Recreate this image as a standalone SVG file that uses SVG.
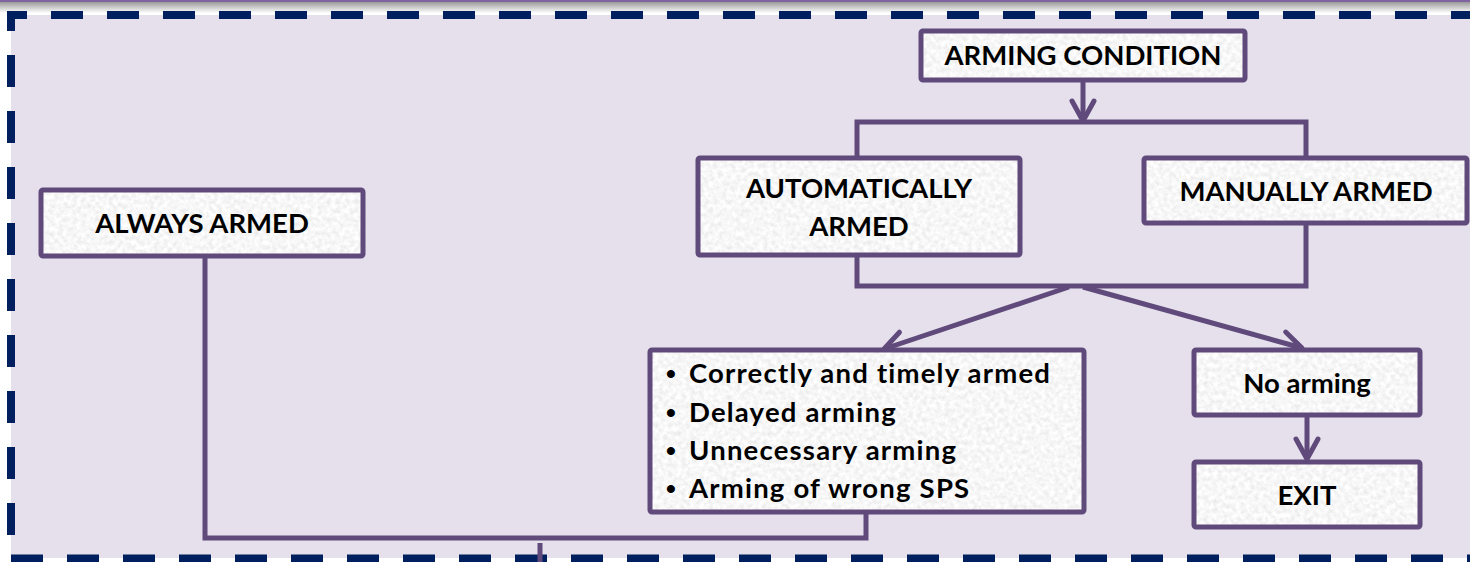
<svg xmlns="http://www.w3.org/2000/svg" width="1470" height="562" viewBox="0 0 1470 562">
  <defs>
    <style>
      .box { stroke: #604A7B; stroke-width: 5; fill: none; }
      .face { fill: #EDEDED; filter: url(#grain); }
      .wire { stroke: #604A7B; stroke-width: 5; fill: none; stroke-linejoin: miter; }
      .dash { stroke: #001F5F; stroke-width: 8; stroke-dasharray: 32 24; fill: none; }
      .lbl { font-family: Lato, "Liberation Sans", sans-serif; font-weight: 700; font-size: 27.5px; fill: #000; text-anchor: middle; }
      .item { font-family: Lato, "Liberation Sans", sans-serif; font-weight: 700; font-size: 27.5px; letter-spacing: 1.2px; fill: #000; }
      .dot { font-family: "Liberation Sans", sans-serif; font-weight: 700; font-size: 28px; fill: #000; }
    </style>
    <linearGradient id="topband" x1="0" y1="0" x2="0" y2="1">
      <stop offset="0" stop-color="#9A9A9A"/>
      <stop offset="1" stop-color="#FFFFFF"/>
    </linearGradient>
    <filter id="grain" x="0" y="0" width="100%" height="100%">
      <feTurbulence type="fractalNoise" baseFrequency="0.22" numOctaves="3" seed="7" result="noise"/>
      <feColorMatrix in="noise" type="matrix" values="0.32 0 0 0 0.77  0.32 0 0 0 0.77  0.32 0 0 0 0.77  0 0 0 0 1" result="tone"/>
      <feComposite in="tone" in2="SourceGraphic" operator="in"/>
    </filter>
    <marker id="head" markerUnits="userSpaceOnUse" markerWidth="30" markerHeight="30" viewBox="-24 -15 30 30" refX="0" refY="0" orient="auto" overflow="visible">
      <path d="M -20 -11 L 0 0 L -20 11" fill="none" stroke="#604A7B" stroke-width="5" stroke-linecap="round" stroke-linejoin="round"/>
    </marker>
  </defs>

  <!-- page background and top band -->
  <rect x="0" y="0" width="1470" height="562" fill="#FFFFFF"/>
  <rect x="0" y="2" width="1470" height="11" fill="url(#topband)"/>
  <rect x="0" y="0" width="1470" height="2" fill="#8064A2"/>
  <rect x="11" y="15" width="1459" height="543" fill="#E5E0EC"/>

  <!-- dashed frame -->
  <g id="frame">
    <line class="dash" x1="7" y1="15" x2="1470" y2="15" stroke-dashoffset="12"/>
    <line class="dash" x1="11" y1="11" x2="11" y2="545" stroke-dashoffset="12"/>
    <line class="dash" x1="11" y1="558.5" x2="1470" y2="558.5"/>
  </g>

  <!-- connectors -->
  <g id="connectors">
    <line class="wire" x1="1083" y1="80" x2="1083" y2="121" marker-end="url(#head)"/>
    <polyline class="wire" points="857,158 857,122 1306,122 1306,158"/>
    <polyline class="wire" points="857,256 857,286 1306,286 1306,223"/>
    <line class="wire" x1="1069" y1="287" x2="884" y2="349" marker-end="url(#head)"/>
    <line class="wire" x1="1083" y1="287" x2="1302" y2="348" marker-end="url(#head)"/>
    <line class="wire" x1="1307" y1="415" x2="1307" y2="459" marker-end="url(#head)"/>
    <polyline class="wire" points="205,256 205,538 866,538 866,512"/>
    <line class="wire" x1="540" y1="543" x2="540" y2="562"/>
  </g>

  <g id="arming-condition">
    <rect class="face" x="921" y="31" width="324" height="49"/>
    <rect class="box" x="921" y="31" width="324" height="49" rx="2"/>
    <text class="lbl" x="1083" y="65">ARMING CONDITION</text>
  </g>

  <g id="automatically-armed">
    <rect class="face" x="698" y="158" width="322" height="97"/>
    <rect class="box" x="698" y="158" width="322" height="97" rx="2"/>
    <text class="lbl" x="859" y="198">AUTOMATICALLY</text>
    <text class="lbl" x="859" y="236">ARMED</text>
  </g>

  <g id="manually-armed">
    <rect class="face" x="1144" y="158" width="323" height="65"/>
    <rect class="box" x="1144" y="158" width="323" height="65" rx="2"/>
    <text class="lbl" x="1306" y="201">MANUALLY ARMED</text>
  </g>

  <g id="always-armed">
    <rect class="face" x="41" y="190" width="322" height="66"/>
    <rect class="box" x="41" y="190" width="322" height="66" rx="2"/>
    <text class="lbl" x="202" y="233">ALWAYS ARMED</text>
  </g>

  <g id="outcomes">
    <rect class="face" x="650" y="350" width="434" height="162"/>
    <rect class="box" x="650" y="350" width="434" height="162" rx="2"/>
    <text class="dot" x="666" y="383">•</text>
    <text class="item" x="689" y="383">Correctly and timely armed</text>
    <text class="dot" x="666" y="421.5">•</text>
    <text class="item" x="689" y="421.5">Delayed arming</text>
    <text class="dot" x="666" y="460">•</text>
    <text class="item" x="689" y="460">Unnecessary arming</text>
    <text class="dot" x="666" y="498">•</text>
    <text class="item" x="689" y="498">Arming of wrong SPS</text>
  </g>

  <g id="no-arming">
    <rect class="face" x="1194" y="350" width="226" height="65"/>
    <rect class="box" x="1194" y="350" width="226" height="65" rx="2"/>
    <text class="lbl" x="1307" y="393">No arming</text>
  </g>

  <g id="exit">
    <rect class="face" x="1194" y="462" width="226" height="65"/>
    <rect class="box" x="1194" y="462" width="226" height="65" rx="2"/>
    <text class="lbl" x="1307" y="505">EXIT</text>
  </g>
</svg>
